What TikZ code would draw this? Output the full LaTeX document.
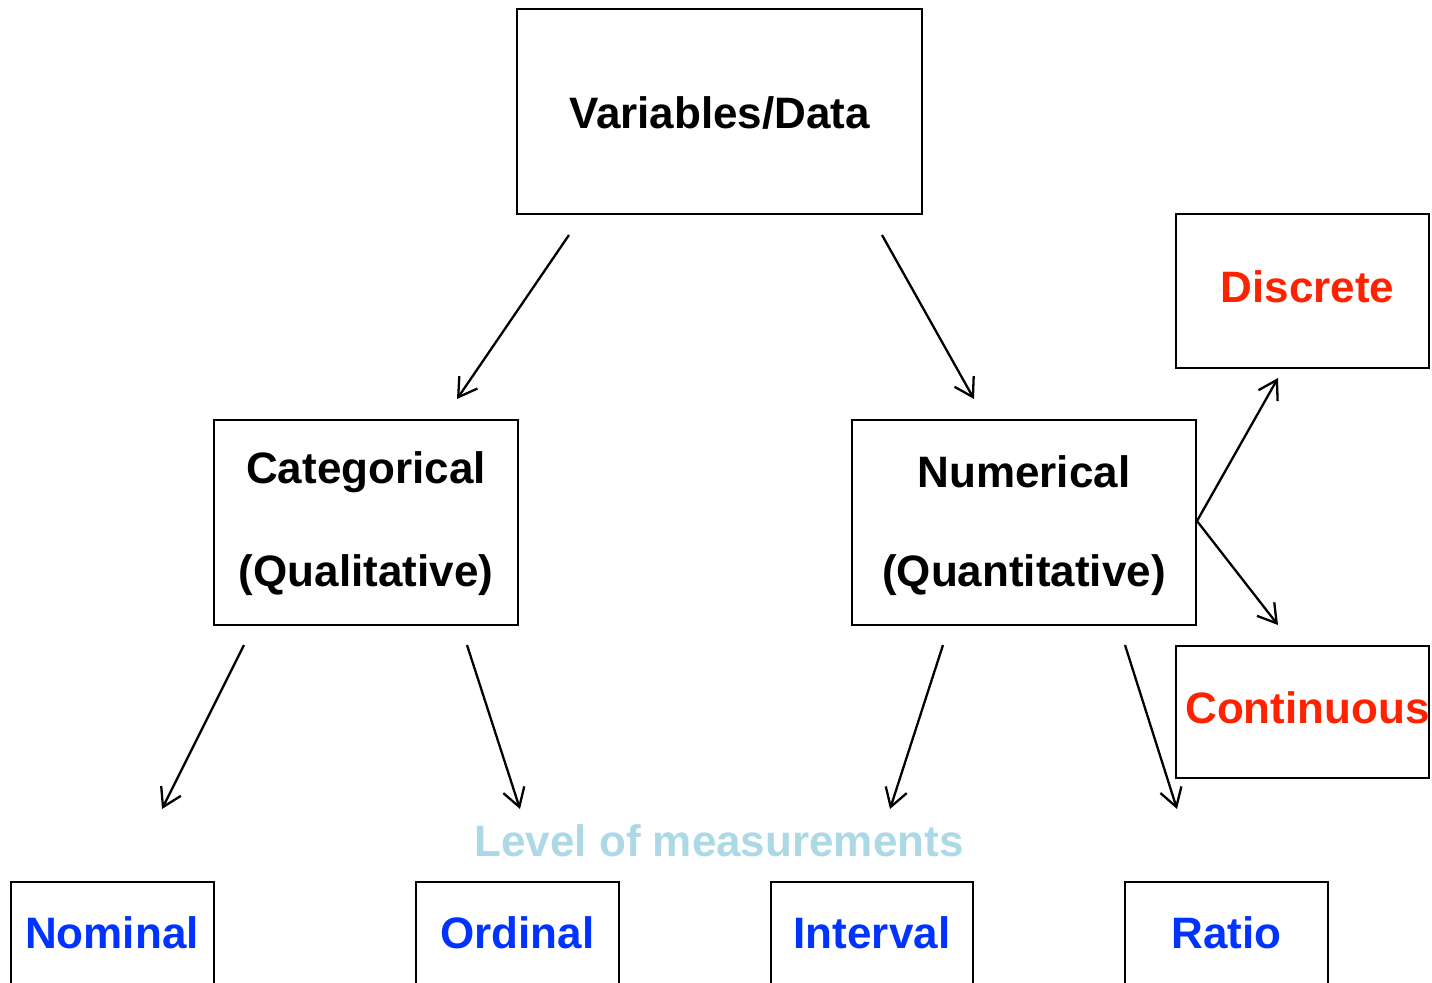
\documentclass[tikz,border=0pt]{standalone}
\usepackage{fontspec}
\setmainfont{Liberation Sans}
\usetikzlibrary{arrows.meta,fit}
\definecolor{redtxt}{HTML}{FF2200}
\definecolor{bluetxt}{HTML}{0033FF}
\definecolor{paletxt}{HTML}{ADD8E6}
\begin{document}
\begin{tikzpicture}[x=0.5pt,y=-0.5pt,
  box/.style={draw, line width=1.4pt, inner sep=0pt, outer sep=0pt},
  lbl/.style={anchor=base, font=\fontsize{22}{26}\selectfont\bfseries, inner sep=0pt},
  arr/.style={-{Straight Barb[length=9pt,width=11pt,line width=1.15pt]}, line width=1.15pt}]
\useasboundingbox (0,0) rectangle (1432,982);
\clip (0,0) rectangle (1432,982);
% boxes
\node[box, fit={(517,9) (922,214)}] (var) {};
\node[box, fit={(214,420) (518,625)}] (cat) {};
\node[box, fit={(852,420) (1196,625)}] (num) {};
\node[box, fit={(1176,214) (1429,368)}] (disc) {};
\node[box, fit={(1176,646) (1429,778)}] (cont) {};
\node[box, fit={(11,882) (214,1010)}] (nom) {};
\node[box, fit={(416,882) (619,1010)}] (ord) {};
\node[box, fit={(771,882) (973,1010)}] (intv) {};
\node[box, fit={(1125,882) (1328,1010)}] (rat) {};
% texts
\node[lbl] (tvar) at (719.5,128.5) {Variables/Data};
\node[lbl] (tcat1) at (366,483) {Categorical};
\node[lbl] (tcat2) at (366,586) {(Qualitative)};
\node[lbl] (tnum1) at (1024,487) {Numerical};
\node[lbl] (tnum2) at (1024,586) {(Quantitative)};
\node[lbl, text=redtxt] (tdisc) at (1307.5,302) {Discrete};
\node[lbl, text=redtxt] (tcont) at (1307.5,723) {Continuous};
\node[lbl, text=paletxt] (tlev) at (719,856) {Level of measurements};
\node[lbl, text=bluetxt] (tnom) at (112,948) {Nominal};
\node[lbl, text=bluetxt] (tord) at (517.5,948) {Ordinal};
\node[lbl, text=bluetxt] (tint) at (872,948) {Interval};
\node[lbl, text=bluetxt] (trat) at (1226.5,948) {Ratio};
% arrow end points
\coordinate (a1s) at (569,235); \coordinate (a1e) at (457,399);
\coordinate (a2s) at (882,235); \coordinate (a2e) at (974,399);
\coordinate (a3s) at (244,645); \coordinate (a3e) at (162,809);
\coordinate (a4s) at (467,645); \coordinate (a4e) at (520,809);
\coordinate (a5s) at (943,645); \coordinate (a5e) at (890,809);
\coordinate (a6s) at (1125,645); \coordinate (a6e) at (1177,809);
\coordinate (fork) at (1197,521);
\coordinate (a7e) at (1278,378);
\coordinate (a8e) at (1278,625);
\draw[arr] (a1s) -- (a1e);
\draw[arr] (a2s) -- (a2e);
\draw[arr] (a3s) -- (a3e);
\draw[arr] (a4s) -- (a4e);
\draw[arr] (a5s) -- (a5e);
\draw[arr] (a6s) -- (a6e);
\draw[arr] (fork) -- (a7e);
\draw[arr] (fork) -- (a8e);
\end{tikzpicture}
\end{document}
